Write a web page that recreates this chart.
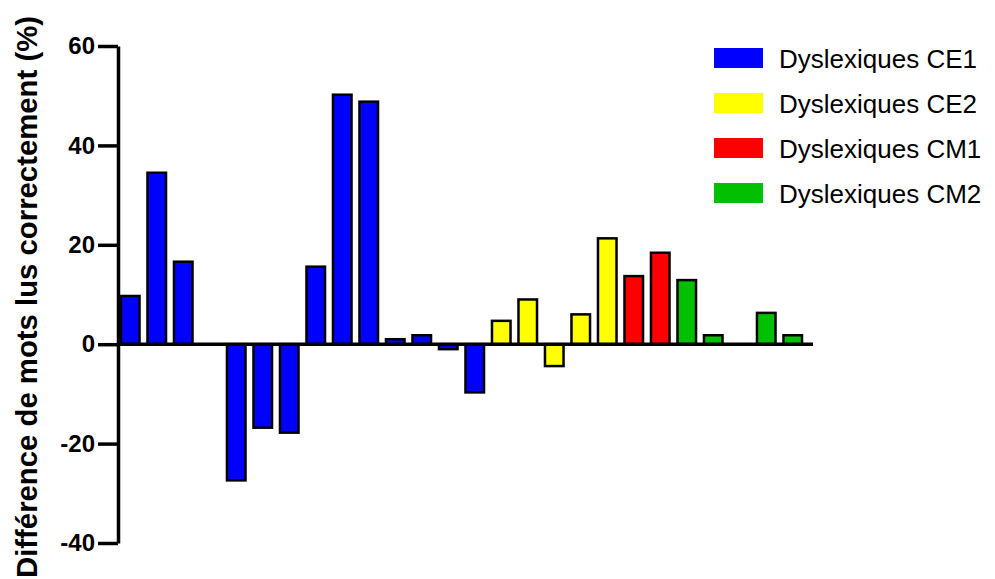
<!DOCTYPE html>
<html>
<head>
<meta charset="utf-8">
<script src="https://cdn.jsdelivr.net/npm/d3@7"></script>
<style>
  body { margin: 0; background: #fff; }
  text { font-family: 'Liberation Sans', Arial, sans-serif; }
</style>
</head>
<body>
<div id="chart"></div>
<script>
// values, one slot per bar (null = empty slot)
const groupNames = ['Dyslexiques CE1', 'Dyslexiques CE2', 'Dyslexiques CM1', 'Dyslexiques CM2']
const groupColors = ['#0000ff', '#ffff00', '#ff0000', '#00c000']

const ce1Values = [9.7, 34.5, 16.6, null, -27.4, -16.8, -17.8, 15.6, 50.2, 48.8, 1.0, 1.8, -1.0, -9.7]
const ce2Values = [4.7, 9.0, -4.4, 6.0, 21.3]
const cm1Values = [13.7, 18.4]
const cm2Values = [12.9, 1.8, null, 6.3, 1.8]

const yTicks = [-40, -20, 0, 20, 40, 60]
const yLabel = 'Différence de mots lus correctement (%)'

const width = 995
const height = 579

const svg = d3
  .select('#chart')
  .append('svg')
  .attr('width', width)
  .attr('height', height)

// flatten into one list of bars
const datapoints = []
;[ce1Values, ce2Values, cm1Values, cm2Values].forEach((vals, g) => {
  vals.forEach(v => {
    datapoints.push({ slot: datapoints.length, group: g, value: v })
  })
})

const xPositionScale = d3
  .scaleBand()
  .domain(datapoints.map(d => d.slot))
  .range([117, 806])
  .paddingInner(0.3)
  .paddingOuter(0.15)

const yPositionScale = d3
  .scaleLinear()
  .domain([-40, 60])
  .range([543, 46])

const axisX = 118

// bars
svg
  .selectAll('.bar')
  .data(datapoints.filter(d => d.value !== null))
  .enter()
  .append('rect')
  .attr('class', 'bar')
  .attr('x', d => xPositionScale(d.slot))
  .attr('width', xPositionScale.bandwidth())
  .attr('y', d => yPositionScale(Math.max(0, d.value)))
  .attr('height', d => Math.abs(yPositionScale(d.value) - yPositionScale(0)))
  .attr('fill', d => groupColors[d.group])
  .attr('stroke', '#000')
  .attr('stroke-width', 2.5)

// zero line
svg
  .append('line')
  .attr('x1', axisX)
  .attr('x2', xPositionScale.range()[1] + 7)
  .attr('y1', yPositionScale(0))
  .attr('y2', yPositionScale(0))
  .attr('stroke', '#000')
  .attr('stroke-width', 3.5)

// y axis
const yAxis = d3
  .axisLeft(yPositionScale)
  .tickValues(yTicks)
  .tickFormat(d => String(d))
  .tickSize(20)
  .tickSizeOuter(0)
  .tickPadding(3)

const yg = svg
  .append('g')
  .attr('class', 'y-axis')
  .attr('transform', 'translate(' + axisX + ',0)')
  .call(yAxis)

yg.select('.domain').attr('stroke', '#000').attr('stroke-width', 3.5)
yg.selectAll('.tick line').attr('stroke', '#000').attr('stroke-width', 3.5)
yg.selectAll('.tick text')
  .attr('font-family', "'Liberation Sans', Arial, sans-serif")
  .attr('font-size', 24)
  .attr('font-weight', 'bold')
  .attr('fill', '#000')

// y label
svg
  .append('text')
  .attr('transform', 'rotate(-90)')
  .attr('x', -297)
  .attr('y', 37)
  .attr('text-anchor', 'middle')
  .attr('font-size', 30)
  .attr('font-weight', 'bold')
  .attr('textLength', 562)
  .attr('lengthAdjust', 'spacingAndGlyphs')
  .text(yLabel)

// legend
const legend = svg
  .selectAll('.legend')
  .data(groupNames)
  .enter()
  .append('g')
  .attr('class', 'legend')
  .attr('transform', (d, i) => 'translate(714,' + (48 + i * 45) + ')')

legend
  .append('rect')
  .attr('width', 49)
  .attr('height', 20)
  .attr('fill', (d, i) => groupColors[i])

legend
  .append('text')
  .attr('x', 65)
  .attr('y', 20)
  .attr('font-size', 26)
  .attr('fill', '#000')
  .text(d => d)
</script>
</body>
</html>
